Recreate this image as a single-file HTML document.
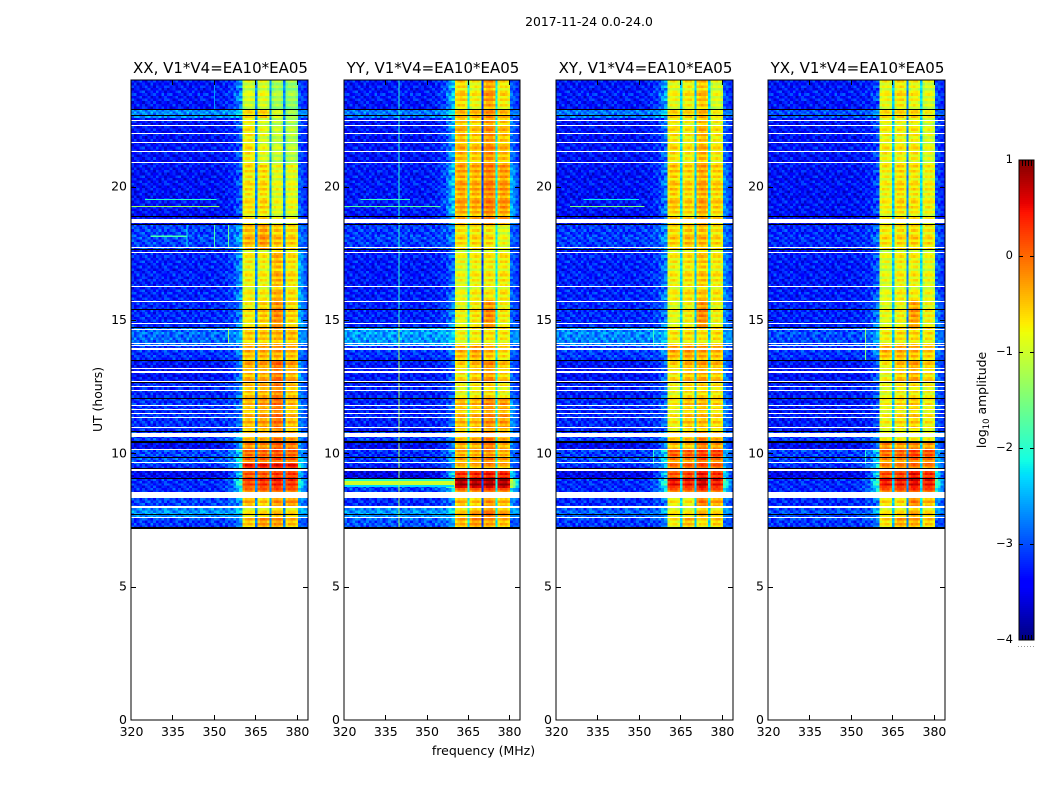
<!DOCTYPE html>
<html lang="en">
<head>
<meta charset="utf-8">
<title>2017-11-24 0.0-24.0</title>
<style>
html,body{margin:0;padding:0;background:#fff;width:1050px;height:800px;overflow:hidden}
svg{display:block}
text{font-family:"DejaVu Sans","Liberation Sans",sans-serif;fill:#000}
</style>
</head>
<body>
<svg id="chart" xmlns="http://www.w3.org/2000/svg" width="1050" height="800" viewBox="0 0 1050 800">
  <rect x="0" y="0" width="1050" height="800" fill="#fff"/>
  <text x="589" y="26" font-size="12.4" text-anchor="middle">2017-11-24 0.0-24.0</text>
  <text x="0" y="0" font-size="12.4" text-anchor="middle" transform="translate(102,399.5) rotate(-90)">UT (hours)</text>
  <text x="483.5" y="755" font-size="12.5" text-anchor="middle">frequency (MHz)</text>
  <text font-size="12.4" text-anchor="middle" transform="translate(986,400) rotate(-90)">log<tspan font-size="8.5" dy="3">10</tspan><tspan dy="-3"> amplitude</tspan></text>
  <g id="panels"></g>
  <g id="colorbar"></g>
</svg>
<script>
// ---------- data ----------
const panelNames = ['XX', 'YY', 'XY', 'YX'];
const baselineLabel = ', V1*V4=EA10*EA05';
const xTicks = [320, 335, 350, 365, 380];
const yTicks = [0, 5, 10, 15, 20];
const colorTicks = [-4, -3, -2, -1, 0, 1];

// Spectral channels: start frequency (MHz), last entry closes the final channel.
const channelMHz = [320,321,322,323,324,325,326,327,328,329,330,331,332,333,334,335,336,337,338,339,
  340,341,342,343,344,345,346,347,348,349,350,351,352,353,354,355,356,357,358,359,
  360.4,361.3,362.2,363.1,364,364.9,365.7,366.6,367.5,368.4,369.2,370,370.8,371.7,372.5,373.3,374.2,375,
  375.8,376.7,377.6,378.5,379.5,380.4,381.4,382.4,383.4,384];
// 0 = off-band, 1-4 = spectral windows, 5-7 = gaps between windows, 8 = above the band.
const channelGroup = [0,0,0,0,0,0,0,0,0,0,0,0,0,0,0,0,0,0,0,0,
  0,0,0,0,0,0,0,0,0,0,0,0,0,0,0,0,0,0,0,0,
  1,1,1,1,1,5,2,2,2,2,2,6,3,3,3,3,3,7,
  4,4,4,4,4,8,8,8,8];
const rampWeight = [0,0,0,0,0,0,0,0,0,0,0,0,0,0,0,0,0,0,0,0,
  0,0,0,0,0,0,0,0,0,0,0,0,0.03,0.06,0.1,0.18,0.3,0.45,0.65,0.9];
const rightWeight = [1,0.75,0.45,0.2];
const windowShape = [-0.1,0.05,0.08,0.05,-0.1];

// Time bands: edge hours, top of the plot downward.
const bandEdges = [24,22.91,22.58,20.81,18.9,18.6,17.63,15.75,14.74,14.06,13.5,12.68,12.08,10.84,10.39,10.13,9.83,9.6,9.34,9.04,8.7,8.33,7.95,7.58,7.2];

// Estimated noise-floor correction applied to the off-band levels below.
const noiseFloorShift = -0.12;

// log10 amplitude per band: [off-band, ramp, above-band, window1..window4]
const levelsXX = [
 [-3.2,-2.6,-3.0,-1.05,-1.0,-1.3,-1.4],[-2.6,-2.3,-2.7,-.75,-.7,-1.1,-1.4],[-3.25,-2.9,-3.0,-.8,-1.0,-1.15,-1.25],
 [-3.25,-2.9,-2.9,-.75,-.7,-.95,-.95],[-3.25,-2.9,-2.9,-.75,-.7,-.95,-.95],[-2.95,-2.5,-2.8,-.5,-.35,-.55,-.65],
 [-3.15,-2.6,-2.5,-.85,-.85,-.5,-.75],[-3.1,-2.7,-2.5,-.8,-.6,-.25,-.65],[-2.75,-2.5,-2.6,-.6,-.55,-.45,-.5],
 [-3.05,-2.7,-2.8,-.5,-.45,-.4,-.5],[-3.25,-2.7,-2.6,-.45,-.4,-.1,-.4],[-3.1,-2.7,-2.7,-.5,-.4,-.15,-.5],
 [-3.05,-2.8,-2.7,-.5,-.35,-.1,-.5],[-3.0,-2.4,-2.7,-.55,-.5,-.2,-.4],[-3.3,-2.5,-2.6,-.2,-.2,.05,-.1],
 [-2.95,-2.2,-2.6,-.15,-.1,0,-.1],[-2.85,-2.1,-2.3,-.05,0,.1,0],[-3.1,-2.1,-1.9,.3,.3,.35,.3],
 [-3.3,-2.2,-2.4,.1,.1,.25,.25],[-3.1,-1.9,-2.1,.1,.2,.3,.2],[-3.1,-2.1,-2.3,-.1,0,.1,0],
 [-2.95,-2.5,-2.6,-.45,-.6,-.3,-.3],[-2.55,-2.4,-2.5,-.8,-.7,-.55,-.7],[-3.0,-2.7,-2.9,-.55,-.3,-.3,-.5]];
const levelsYY = [
 [-3.2,-2.3,-2.9,-.65,-.85,-.35,-.75],[-2.7,-2.1,-2.8,-.55,-.55,-.3,-.55],[-3.25,-2.5,-2.8,-.5,-.6,-.3,-.55],
 [-3.2,-2.3,-2.5,-.4,-.45,-.2,-.35],[-3.2,-2.3,-2.5,-.4,-.45,-.2,-.35],[-3.0,-2.7,-2.9,-.7,-.7,-.7,-.95],
 [-3.2,-2.8,-2.9,-.95,-.85,-.8,-.8],[-3.15,-2.6,-2.9,-.9,-.75,-.25,-.8],[-2.5,-2.35,-2.7,-.85,-.8,-.7,-.75],
 [-3.05,-2.8,-2.9,-.5,-.4,-.5,-.7],[-3.2,-2.9,-2.9,-.7,-.55,-.3,-.6],[-3.15,-2.9,-2.9,-.85,-.75,-.6,-.8],
 [-3.15,-2.8,-2.6,-.5,-.5,-.25,-.35],[-3.0,-2.6,-2.7,-.6,-.5,-.2,-.5],[-3.3,-2.7,-2.7,-.4,-.4,-.1,-.4],
 [-3.1,-2.5,-2.8,-.5,-.5,-.35,-.5],[-3.0,-2.5,-2.8,-.35,-.3,-.1,-.3],[-3.2,-2.6,-2.8,-.6,-.6,-.4,-.6],
 [-3.4,-2.1,-2.3,.3,.35,.45,.4],[-2.9,-1.0,-1.2,.75,.75,.75,.75],[-3.0,-2.1,-2.3,-.1,-.05,.1,0],
 [-3.1,-2.6,-2.6,-.5,-.6,-.3,-.5],[-2.55,-2.3,-2.6,-.6,-.4,-.15,-.4],[-2.85,-2.6,-3.0,-.45,-.3,-.35,-.5]];
const levelsXY = [
 [-3.2,-2.5,-3.0,-.9,-.8,-.55,-1.0],[-2.7,-2.3,-2.8,-.7,-.7,-.5,-.9],[-3.25,-2.8,-2.9,-.75,-.8,-.5,-.8],
 [-3.25,-2.7,-2.7,-.6,-.65,-.4,-.65],[-3.25,-2.7,-2.7,-.6,-.65,-.4,-.65],[-3.0,-2.6,-2.8,-.65,-.55,-.5,-.7],
 [-3.15,-2.7,-2.7,-.85,-.75,-.6,-.8],[-3.1,-2.7,-2.7,-.95,-.8,-.25,-.85],[-2.6,-2.4,-2.6,-.75,-.7,-.7,-.7],
 [-3.0,-2.7,-2.8,-.45,-.35,-.4,-.5],[-3.25,-2.8,-2.7,-.7,-.5,-.4,-.55],[-3.15,-2.8,-2.8,-.85,-.65,-.6,-.7],
 [-3.1,-2.8,-2.7,-.8,-.55,-.5,-.65],[-3.0,-2.6,-2.8,-.6,-.55,-.25,-.5],[-3.3,-2.6,-2.7,-.5,-.5,-.1,-.3],
 [-3.0,-2.2,-2.5,-.05,-.05,.1,.1],[-2.9,-2.3,-2.6,-.2,-.2,.05,-.1],[-3.1,-2.3,-2.5,-.2,-.1,0,-.1],
 [-3.35,-2.2,-2.3,.1,.2,.45,.3],[-3.1,-1.9,-1.9,.4,.35,.6,.35],[-3.1,-2.1,-2.2,0,0,.2,.05],
 [-3.1,-2.7,-2.7,-.8,-.8,-.15,-.4],[-2.8,-2.5,-2.6,-.8,-.8,-.5,-.7],[-3.0,-2.8,-2.9,-.8,-.5,-.7,-.6]];
const levelsYX = [
 [-3.2,-3.0,-3.0,-.9,-.75,-.85,-1.0],[-2.9,-2.6,-2.9,-.75,-.7,-.7,-.9],[-3.25,-3.0,-3.0,-.85,-.85,-.8,-1.0],
 [-3.25,-3.0,-3.0,-.85,-.7,-.75,-.85],[-3.25,-3.0,-3.0,-.85,-.7,-.75,-.85],[-3.1,-2.8,-2.9,-.75,-.7,-.65,-.75],
 [-3.2,-2.9,-2.9,-1.0,-.85,-.85,-.95],[-3.15,-2.7,-2.7,-.95,-.85,-.35,-.85],[-2.9,-2.5,-2.7,-.8,-.7,-.65,-.75],
 [-3.05,-2.7,-2.8,-.5,-.45,-.5,-.6],[-3.25,-2.9,-2.8,-.85,-.55,-.4,-.65],[-3.15,-2.9,-2.9,-.9,-.75,-.7,-.8],
 [-3.2,-3.0,-2.9,-.85,-.7,-.6,-.8],[-3.0,-2.7,-2.8,-.9,-.9,-.85,-.9],[-3.3,-2.8,-2.7,-.2,-.3,-.2,-.3],
 [-3.0,-2.3,-2.5,-.15,-.1,.1,0],[-2.95,-2.4,-2.5,-.25,-.2,-.05,-.1],[-3.1,-2.0,-2.3,-.3,-.3,-.2,-.3],
 [-3.35,-2.1,-2.2,.15,.2,.5,.3],[-3.1,-1.9,-1.9,.35,.35,.5,.35],[-3.1,-2.0,-2.1,0,.05,.2,.1],
 [-3.1,-2.7,-2.6,-.7,-.7,-.2,-.5],[-2.9,-2.5,-2.6,-.8,-.7,-.45,-.7],[-3.0,-2.8,-3.0,-.7,-.4,-.4,-.6]];
const panelLevels = [levelsXX, levelsYY, levelsXY, levelsYX];
// Level in the three gaps between windows, per panel.
const gapLevels = [[-2.7,-2.6,-2.7],[-2.2,-3.1,-2.2],[-2.3,-2.4,-2.3],[-2.4,-2.7,-2.3]];

// Visible cell-to-cell speckle and row striping (log10 offsets).
const speckle = [
 [.16,-.27,.07,.35,-.1,-.39,.21,-.03,.29,-.22,.12,-.34,.04],
 [-.18,.31,-.36,.03,.23,-.08,-.3,.38,-.14,.09,-.25,.18,-.05],
 [.27,-.04,.14,-.33,.08,.34,-.2,.05,-.38,.25,.01,-.12,.3],
 [-.35,.1,.22,-.16,-.26,.13,.36,-.21,.04,-.09,.33,-.29,.17],
 [.05,-.23,-.06,.26,.39,-.31,-.01,.2,-.17,.35,-.13,.08,-.36],
 [.23,.34,-.29,-.12,.03,.17,-.35,.09,.3,-.05,-.21,.39,-.16],
 [-.08,-.17,.12,.38,-.25,-.04,.26,-.33,.01,.21,-.39,.07,.31],
 [.33,.04,-.38,-.14,.18,.29,-.09,.13,-.26,-.03,.16,-.22,.25],
 [-.3,.21,.09,-.01,-.34,.1,.25,-.18,.36,-.07,-.31,.14,.03],
 [.01,-.13,.36,-.23,.14,-.36,.05,.31,-.12,.17,.08,-.27,-.2],
 [.2,-.33,-.16,.08,.3,.22,-.14,-.39,.12,.27,-.04,.35,-.1]];
const rowRipple = [.2,-.15,.12,-.24,.08,.22,-.11];

// Narrow interference, vertical: [panel, MHz, top hour, bottom hour, level]
const rfiLinePanel = [1,1,0,0,0,0,0,2,2,3,3];
const rfiLineMHz   = [339.9,339.9,340,350,355,355,350,355,355,355,355];
const rfiLineTop   = [24,15,18.6,18.6,18.6,14.74,24,14.74,10.13,14.74,10.1];
const rfiLineBot   = [15,7.2,17.7,17.7,17.7,14.1,22.9,14.06,9.6,13.5,9.6];
const rfiLineLevel = [-2.0,-1.2,-2.2,-1.8,-1.6,-1.3,-2.6,-1.9,-2.0,-1.4,-2.0];
// Narrow interference, horizontal: [panel, MHz from, MHz to, top hour, bottom hour, level]
const rfiBandPanel = [0,0,0,1,1,1,1,1,2,2];
const rfiBandFrom  = [320,325,327,326,320,320,320,320,325,330];
const rfiBandTo    = [352,351,340,344,355,360,360,360,352,350];
const rfiBandTop   = [19.28,19.54,18.16,19.54,19.28,9.04,8.96,8.81,19.28,19.54];
const rfiBandBot   = [19.24,19.5,18.12,19.5,19.24,8.96,8.81,8.74,19.24,19.5];
const rfiBandLevel = [-1.3,-2.0,-1.8,-1.9,-1.7,-2.0,-1.0,-2.3,-1.5,-2.2];

// Flagged (blank) and zero-amplitude (black) time ranges, hours.
const whiteTop = [22.5,22.31,22.01,21.67,21.34,20.93,18.79,17.74,17.55,16.28,15.71,14.89,14.66,14.14,14.06,13.95,13.2,13.09,12.71,12.51,12.38,11.81,11.66,11.51,11.36,10.99,10.76,10.16,9.68,9.41,8.56,8.02,7.63];
const whiteBot = [22.46,22.27,21.97,21.64,21.3,20.89,18.64,17.7,17.51,16.24,15.68,14.85,14.63,14.1,14.03,13.88,13.16,13.01,12.68,12.49,12.34,11.78,11.63,11.48,11.33,10.95,10.61,10.13,9.64,9.34,8.32,7.95,7.58];
const blackTop = [22.91,22.69,18.9,18.6,17.66,15.41,14.74,13.5,12.68,12.08,10.84,10.46,9.86,9.45,9.08,7.72,7.22];
const blackBot = [22.88,22.65,18.86,18.56,17.63,15.38,14.7,13.46,12.64,12.04,10.8,10.39,9.83,9.41,9.04,7.69,7.13];

// ---------- layout and scales ----------
const NS = 'http://www.w3.org/2000/svg';
const panelLeft = [131, 344, 556, 768];
const panelWidth = [177, 176, 177, 177];
const plotTop = 80, plotBottom = 720, freqMin = 320, freqMax = 384, hourMax = 24;
const xScale = (p, mhz) => panelLeft[p] + (mhz - freqMin) * panelWidth[p] / (freqMax - freqMin);
const yScale = h => plotBottom - h * (plotBottom - plotTop) / hourMax;
const cbarLeft = 1019, cbarRight = 1034, cbarTop = 160, cbarBottom = 640, cMin = -4, cMax = 1;
const cScale = v => cbarBottom - (v - cMin) * (cbarBottom - cbarTop) / (cMax - cMin);

function lerp(stops, t) {
  for (let i = 1; i < stops.length; i++) {
    if (t <= stops[i][0]) {
      const a = stops[i - 1], b = stops[i];
      return a[1] + (b[1] - a[1]) * (t - a[0]) / (b[0] - a[0]);
    }
  }
  return stops[stops.length - 1][1];
}
const jetR = [[0,0],[.35,0],[.66,1],[.89,1],[1,.5]];
const jetG = [[0,0],[.125,0],[.375,1],[.64,1],[.91,0],[1,0]];
const jetB = [[0,.5],[.11,1],[.34,1],[.65,0],[1,0]];
function jet(v) {
  const t = Math.min(1, Math.max(0, (v - cMin) / (cMax - cMin)));
  return 'rgb(' + Math.round(lerp(jetR, t) * 255) + ',' + Math.round(lerp(jetG, t) * 255) + ',' + Math.round(lerp(jetB, t) * 255) + ')';
}
function makeRect(parent, x, y, w, h, fill) {
  const r = document.createElementNS(NS, 'rect');
  r.setAttribute('x', x.toFixed(2));
  r.setAttribute('y', y.toFixed(2));
  r.setAttribute('width', w.toFixed(2));
  r.setAttribute('height', h.toFixed(2));
  r.setAttribute('fill', fill);
  parent.appendChild(r);
  return r;
}
function makeText(parent, x, y, size, anchor, str) {
  const t = document.createElementNS(NS, 'text');
  t.setAttribute('x', x);
  t.setAttribute('y', y);
  t.setAttribute('font-size', size);
  t.setAttribute('text-anchor', anchor);
  t.textContent = str;
  parent.appendChild(t);
  return t;
}
function makeGroup(parent, crisp) {
  const g = document.createElementNS(NS, 'g');
  if (crisp) g.setAttribute('shape-rendering', 'crispEdges');
  parent.appendChild(g);
  return g;
}
function cellValue(p, band, rowIdx, ch) {
  const L = panelLevels[p][band];
  const group = channelGroup[ch];
  const grain = speckle[rowIdx % speckle.length][ch % speckle[0].length];
  const ripple = rowRipple[rowIdx % rowRipple.length];
  if (group === 0) {
    const w = rampWeight[ch];
    const floor = L[0] + noiseFloorShift;
    return floor + (L[1] - floor) * w + grain + ripple * 0.25;
  }
  if (group >= 1 && group <= 4) {
    const pos = channelGroup.indexOf(group);
    return L[2 + group] + windowShape[ch - pos] + grain * 0.25 + ripple;
  }
  if (group >= 5 && group <= 7) {
    return gapLevels[p][group - 5] + grain * 0.5;
  }
  const first = channelGroup.indexOf(8);
  const w = rightWeight[ch - first];
  const floor = L[0] + noiseFloorShift;
  return floor + (L[2] - floor) * w + grain * 0.7;
}

// ---------- draw the panels ----------
const panelsRoot = document.getElementById('panels');
panelNames.forEach((name, p) => {
  const g = makeGroup(panelsRoot, false);
  
  

  const heat = makeGroup(g, true);
  
  

  let rowIdx = 0;
  for (let b = 0; b < bandEdges.length - 1; b++) {
    const top = bandEdges[b], bot = bandEdges[b + 1];
    const nRows = Math.max(1, Math.ceil((top - bot) / 0.1));
    for (let r = 0; r < nRows; r++) {
      const h0 = top - (top - bot) * r / nRows;
      const h1 = top - (top - bot) * (r + 1) / nRows;
      for (let c = 0; c < channelMHz.length - 1; c++) {
        const x0 = xScale(p, channelMHz[c]), x1 = xScale(p, channelMHz[c + 1]);
        const cell = makeRect(heat, x0, yScale(h0), x1 - x0, yScale(h1) - yScale(h0), jet(cellValue(p, b, rowIdx, c)));
        
        
      }
      rowIdx++;
    }
  }

  const rfi = makeGroup(g, true);
  
  
  rfiBandPanel.forEach((pi, i) => {
    if (pi !== p) return;
    const x0 = xScale(p, rfiBandFrom[i]), y0 = yScale(rfiBandTop[i]);
    const hgt = Math.max(1, yScale(rfiBandBot[i]) - y0);
    const m = makeRect(rfi, x0, y0, xScale(p, rfiBandTo[i]) - x0, hgt, jet(rfiBandLevel[i]));
    
    
  });
  rfiLinePanel.forEach((pi, i) => {
    if (pi !== p) return;
    const y0 = yScale(rfiLineTop[i]);
    const m = makeRect(rfi, xScale(p, rfiLineMHz[i]), y0, 1, yScale(rfiLineBot[i]) - y0, jet(rfiLineLevel[i]));
    
    
  });

  const flags = makeGroup(g, true);
  
  
  whiteTop.forEach((t, i) => {
    const y0 = Math.round(yScale(t));
    const hgt = Math.max(1, Math.round(yScale(whiteBot[i]) - yScale(t)));
    const m = makeRect(flags, panelLeft[p], y0, panelWidth[p], hgt, '#fff');
    
    
  });
  blackTop.forEach((t, i) => {
    const y0 = Math.round(yScale(t));
    const hgt = Math.max(1, Math.round(yScale(blackBot[i]) - yScale(t)));
    const m = makeRect(flags, panelLeft[p], y0, panelWidth[p], hgt, '#000');
    
    
  });

  // frame and ticks
  const axes = makeGroup(g, true);
  
  
  const L = panelLeft[p], R = L + panelWidth[p];
  xTicks.forEach(v => {
    const x = Math.round(xScale(p, v));
    if (v !== freqMin) {
      const a = makeRect(axes, x, plotBottom - 5, 1, 5, '#000');
      
      
      const b = makeRect(axes, x, plotTop, 1, 5, '#000');
      
      
    }
    const lbl = makeText(g, xScale(p, v) + 0.5, 736, 12.5, 'middle', String(v));
    
    
  });
  yTicks.forEach(v => {
    const y = Math.round(yScale(v));
    if (v !== 0) {
      const a = makeRect(axes, L, y, 5, 1, '#000');
      
      
      const b = makeRect(axes, R - 5, y, 5, 1, '#000');
      
      
    }
    const lbl = makeText(g, L - 4, yScale(v) + 4, 12.5, 'end', String(v));
    
    
  });
  const frame = document.createElementNS(NS, 'rect');
  frame.setAttribute('x', L);
  frame.setAttribute('y', plotTop);
  frame.setAttribute('width', panelWidth[p]);
  frame.setAttribute('height', plotBottom - plotTop);
  frame.setAttribute('fill', 'none');
  frame.setAttribute('stroke', '#000');
  frame.setAttribute('stroke-width', '1');
  
  
  axes.appendChild(frame);

  const title = makeText(g, (L + R) / 2 + 1, 73, 15, 'middle', name + baselineLabel);
  
  
});

// ---------- colorbar ----------
const cbarRoot = document.getElementById('colorbar');
const cbarCells = makeGroup(cbarRoot, true);
for (let y = cbarTop; y < cbarBottom; y += 2) {
  const s = makeRect(cbarCells, cbarLeft, y, cbarRight - cbarLeft, 2, jet(cMin + (cbarBottom - y - 1) * (cMax - cMin) / (cbarBottom - cbarTop)));
  
  
}
const cbarAxes = makeGroup(cbarRoot, true);
colorTicks.forEach(v => {
  const y = Math.round(cScale(v));
  if (v !== cMin && v !== cMax) {
    const a = makeRect(cbarAxes, cbarLeft, y, 4, 1, '#000');
    
    
    const b = makeRect(cbarAxes, cbarRight - 4, y, 4, 1, '#000');
    
    
  }
  const lbl = makeText(cbarRoot, 1013, cScale(v) + 3, 11.5, 'end', (v < 0 ? '\u2212' + Math.abs(v) : String(v)));
  
  
});
[1022, 1025, 1028, 1031].forEach(x => {
  const a = makeRect(cbarAxes, x, cbarTop, 1, 6, '#000');
  
  
});
[1022, 1025, 1028, 1031].forEach(x => {
  const a = makeRect(cbarAxes, x, cbarBottom - 5, 1, 5, '#000');
  
  
});
const cbarFrame = document.createElementNS(NS, 'rect');
cbarFrame.setAttribute('x', cbarLeft);
cbarFrame.setAttribute('y', cbarTop);
cbarFrame.setAttribute('width', cbarRight - cbarLeft);
cbarFrame.setAttribute('height', cbarBottom - cbarTop);
cbarFrame.setAttribute('fill', 'none');
cbarFrame.setAttribute('stroke', '#000');


cbarAxes.appendChild(cbarFrame);
[1018, 1021, 1024, 1027, 1030, 1033].forEach(x => {
  const d = makeRect(cbarRoot, x, 646, 1, 1, '#999');
  
  
});
</script>
</body>
</html>
